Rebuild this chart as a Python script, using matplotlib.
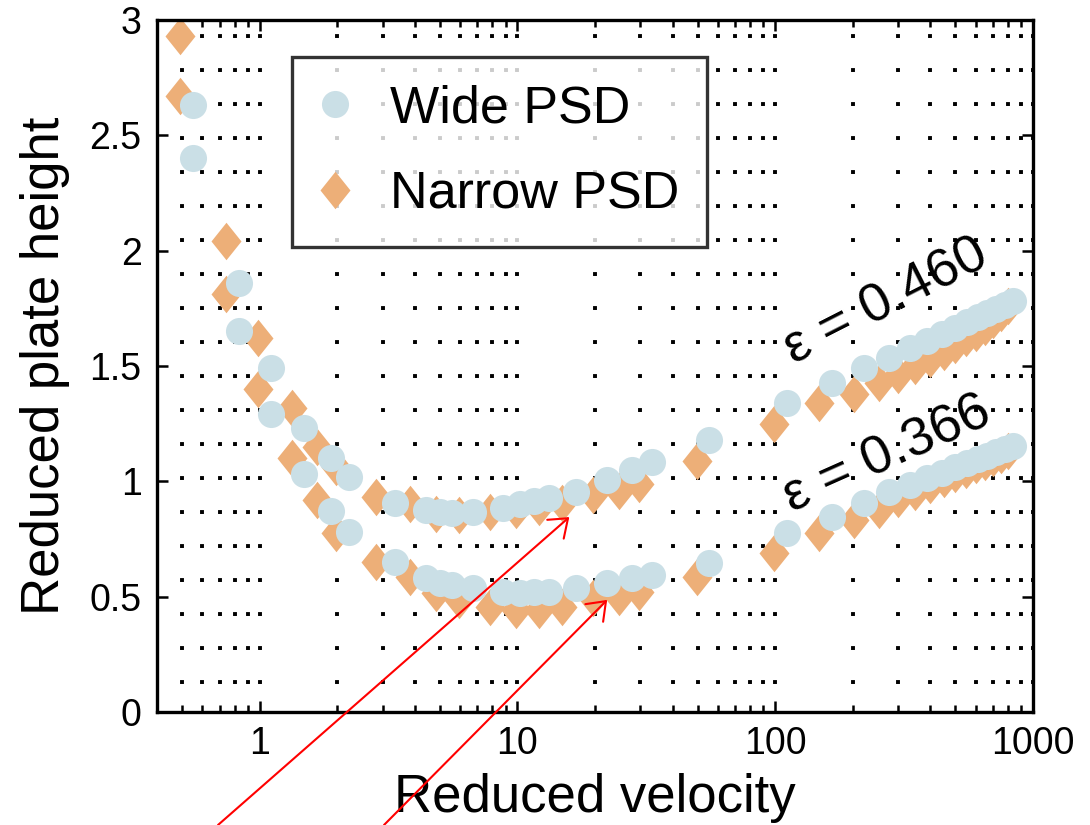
import numpy as np
import matplotlib
matplotlib.use('Agg')
import matplotlib.pyplot as plt
from matplotlib.ticker import LogLocator, NullFormatter, FixedLocator, FixedFormatter

plt.rcParams['font.family'] = ['Liberation Sans', 'DejaVu Sans']
plt.rcParams['lines.scale_dashes'] = False

# ---------------- data ----------------
narrow_v = [0.49, 0.74, 0.99, 1.335, 1.67, 1.97, 2.84, 3.82, 4.85, 5.96, 7.85, 9.9,
            12.1, 14.9, 19.7, 24.8, 29.7, 49.6, 99, 148, 202, 253, 300, 350, 400,
            450, 500, 550, 600, 650, 700, 750, 800]
narrow_h_460 = [2.93, 2.04, 1.62, 1.32, 1.15, 1.06, 0.93, 0.90, 0.86, 0.855, 0.865, 0.875,
                0.89, 0.905, 0.94, 0.96, 0.99, 1.09, 1.25, 1.34, 1.38, 1.425, 1.46, 1.50,
                1.53, 1.56, 1.59, 1.62, 1.645, 1.67, 1.70, 1.73, 1.76]
narrow_h_366 = [2.67, 1.81, 1.40, 1.10, 0.92, 0.776, 0.65, 0.587, 0.515, 0.485, 0.456, 0.442,
                0.442, 0.455, 0.495, 0.50, 0.52, 0.585, 0.69, 0.775, 0.832, 0.876, 0.925,
                0.955, 0.985, 1.01, 1.03, 1.05, 1.07, 1.085, 1.10, 1.115, 1.13]

wide_v = [0.55, 0.83, 1.11, 1.49, 1.90, 2.23, 3.34, 4.44, 5.0, 5.6, 6.7, 8.8,
          10.2, 11.6, 13.3, 16.9, 22.3, 27.8, 33.2, 55.5, 111, 166, 221, 277, 333,
          388, 444, 500, 555, 610, 666, 721, 777, 840]
wide_h_460 = [2.63, 1.86, 1.49, 1.23, 1.10, 1.02, 0.905, 0.875, 0.865, 0.862, 0.865, 0.883,
              0.90, 0.915, 0.926, 0.955, 1.005, 1.05, 1.085, 1.18, 1.338, 1.425, 1.49,
              1.534, 1.576, 1.61, 1.64, 1.666, 1.689, 1.711, 1.73, 1.747, 1.764, 1.78]
wide_h_366 = [2.40, 1.65, 1.29, 1.03, 0.87, 0.78, 0.652, 0.58, 0.56, 0.55, 0.536, 0.521,
              0.518, 0.52, 0.521, 0.536, 0.558, 0.58, 0.594, 0.646, 0.774, 0.847, 0.905,
              0.955, 0.985, 1.013, 1.038, 1.06, 1.078, 1.096, 1.111, 1.126, 1.14, 1.153]

series_labels = ['Wide PSD', 'Narrow PSD']
eps_labels = ['\u03b5 = 0.460', '\u03b5 = 0.366']
xtick_vals = [1, 10, 100, 1000]
xtick_labels = ['1', '10', '100', '1000']
ytick_vals = [0, 0.5, 1, 1.5, 2, 2.5, 3]
ytick_labels = ['0', '0.5', '1', '1.5', '2', '2.5', '3']
arrow_targets = [(15.9, 0.845), (22.3, 0.486)]

# ---------------- figure ----------------
W, H = 1090, 825
fig = plt.figure(figsize=(W / 100, H / 100), dpi=100)
ax = fig.add_axes([157 / W, 113 / H, 876 / W, 692 / H])
ax.set_xscale('log')
ax.set_xlim(0.4, 1000)
ax.set_ylim(0, 3)

c_wide = '#CADFE6'
c_narrow = '#EDAF78'
diamond = [(0, 1), (0.8, 0), (0, -1), (-0.8, 0), (0, 1)]

ln_n, = ax.plot(narrow_v, narrow_h_460, linestyle='none', marker=diamond,
                markersize=27, color=c_narrow, markeredgewidth=0, label=series_labels[1])
ax.plot(narrow_v, narrow_h_366, linestyle='none', marker=diamond,
        markersize=27, color=c_narrow, markeredgewidth=0)
ln_w, = ax.plot(wide_v, wide_h_460, linestyle='none', marker='o',
                markersize=19.5, color=c_wide, markeredgewidth=0, label=series_labels[0])
ax.plot(wide_v, wide_h_366, linestyle='none', marker='o',
        markersize=19.5, color=c_wide, markeredgewidth=0)

# ticks
ax.xaxis.set_major_locator(FixedLocator(xtick_vals))
ax.xaxis.set_major_formatter(FixedFormatter(xtick_labels))
ax.xaxis.set_minor_locator(LogLocator(base=10, subs=np.arange(2, 10)))
ax.xaxis.set_minor_formatter(NullFormatter())
ax.yaxis.set_major_locator(FixedLocator(ytick_vals))
ax.yaxis.set_major_formatter(FixedFormatter(ytick_labels))
ax.tick_params(which='both', direction='in', top=True, right=True, width=1.8,
               labelsize=27, color='black')
ax.tick_params(which='major', length=8)
ax.tick_params(which='minor', length=5)
ax.tick_params(axis='x', which='major', pad=10)
ax.tick_params(axis='y', which='major', pad=11)

for s in ax.spines.values():
    s.set_linewidth(2.4)

# dotted vertical grid
ax.grid(True, which='both', axis='x', color='black', linewidth=2.8,
        linestyle=(4.3, (2.8, 21.68)))

ax.set_xlabel('Reduced velocity', fontsize=38, labelpad=8)
ax.set_ylabel('Reduced plate height', fontsize=38, labelpad=14)

leg = ax.legend(handles=[ln_w, ln_n], loc='upper left', bbox_to_anchor=(0.154, 0.9465),
                borderaxespad=0, fontsize=37.5, frameon=True, fancybox=False,
                handlelength=0.62, handletextpad=0.75, labelspacing=0.72,
                borderpad=0.52, numpoints=1)
leg.get_frame().set_edgecolor('black')
leg.get_frame().set_linewidth(2.4)

ax.text(0.832, 0.592, eps_labels[0], transform=ax.transAxes, fontsize=39,
        rotation=27, ha='center', va='center', rotation_mode='anchor')
ax.text(0.834, 0.372, eps_labels[1], transform=ax.transAxes, fontsize=39,
        rotation=24, ha='center', va='center', rotation_mode='anchor')

# red arrows from below the figure
tails = [(218 / W, 0.0), (384 / W, 0.0)]
for (tx, ty), tgt in zip(tails, arrow_targets):
    ax.annotate('', xy=tgt, xycoords='data', xytext=(tx, ty), textcoords='figure fraction',
                arrowprops=dict(arrowstyle='->,head_length=0.6,head_width=0.45',
                                color='red', lw=1.5, mutation_scale=20,
                                shrinkA=0, shrinkB=0),
                annotation_clip=False)

fig.savefig('out.png', dpi=100)
